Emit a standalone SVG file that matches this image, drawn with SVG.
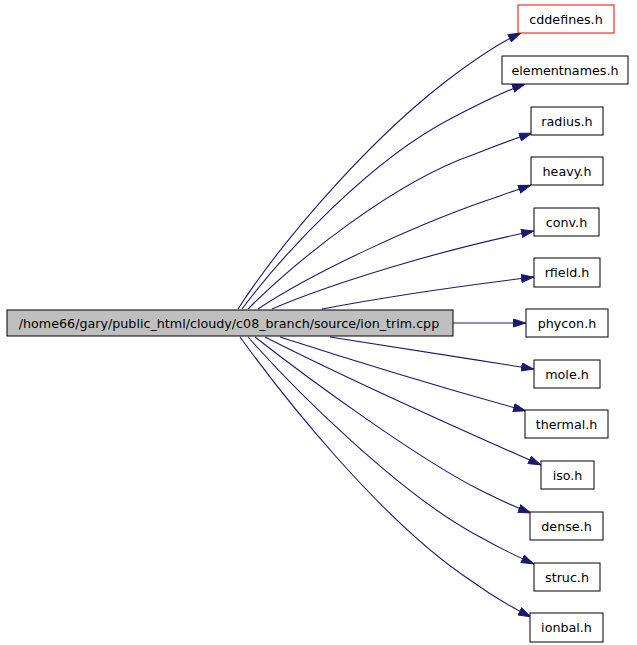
<svg xmlns="http://www.w3.org/2000/svg" width="637" height="645" viewBox="0 0 637 645">
<style>
.n rect{fill:#fff;stroke:#000;stroke-width:1}
.n text{font-family:"DejaVu Sans",sans-serif;font-size:12.7px;text-anchor:middle;fill:#000}
#edges path{fill:none;stroke:#191970;stroke-width:1.1;marker-end:url(#ah)}
</style>
<defs>
<marker id="ah" markerUnits="userSpaceOnUse" viewBox="0 0 13 9" refX="13" refY="4.5" markerWidth="13" markerHeight="9" orient="auto">
<path d="M0.5,0.5 L12.5,4.5 L0.5,8.5 z" fill="#191970" stroke="#191970"/>
</marker>
</defs>
<rect width="637" height="645" fill="#fff"/>
<g id="edges">
<path d="M238,309 C276,250 360,148 445,82 C470,63 497,44 521,33"/>
<path d="M242,309 C283,254 370,160 452,118 C475,106 500,93 525,84"/>
<path d="M248,309 C295,262 393,182 475,154 C495,146 514,139 532,133"/>
<path d="M258,309 C310,274 420,222 500,196 C510,192 520,189 531,185"/>
<path d="M272,309 C330,284 440,250 534,231"/>
<path d="M322,309 C380,298 460,286 534,277"/>
<path d="M453,323 L526,323"/>
<path d="M330,337 C390,347 465,358 534,369"/>
<path d="M280,337 C345,358 450,390 526,411"/>
<path d="M265,337 C330,370 450,425 541,465"/>
<path d="M255,337 C310,380 420,460 480,490 C498,499 515,507 531,513"/>
<path d="M248,337 C295,390 400,495 480,537 C498,547 516,556 534,564"/>
<path d="M240,337 C282,395 380,520 470,580 C488,593 509,606 531,617"/>
</g>
<g id="main" class="n"><rect x="7" y="310" width="446" height="26" style="fill:#bfbfbf"/><text x="229" y="327.5">/home66/gary/public_html/cloudy/c08_branch/source/ion_trim.cpp</text></g>
<g id="cddefines" class="n"><rect x="518" y="5" width="96" height="28" style="stroke:#f00"/><text x="566" y="23.5">cddefines.h</text></g>
<g id="elementnames" class="n"><rect x="502" y="56" width="126" height="28"/><text x="565" y="74.5">elementnames.h</text></g>
<g id="radius" class="n"><rect x="531" y="107" width="72" height="28"/><text x="567" y="125.5">radius.h</text></g>
<g id="heavy" class="n"><rect x="531" y="157" width="72" height="28"/><text x="567" y="175.5">heavy.h</text></g>
<g id="conv" class="n"><rect x="534" y="208" width="65" height="28"/><text x="566.5" y="226.5">conv.h</text></g>
<g id="rfield" class="n"><rect x="534" y="258" width="66" height="29"/><text x="567" y="276.5">rfield.h</text></g>
<g id="phycon" class="n"><rect x="526" y="309" width="82" height="28"/><text x="567" y="327.5">phycon.h</text></g>
<g id="mole" class="n"><rect x="534" y="360" width="66" height="28"/><text x="567" y="378.5">mole.h</text></g>
<g id="thermal" class="n"><rect x="525" y="410" width="83" height="28"/><text x="566.5" y="428.5">thermal.h</text></g>
<g id="iso" class="n"><rect x="541" y="461" width="53" height="28"/><text x="567.5" y="479.5">iso.h</text></g>
<g id="dense" class="n"><rect x="530" y="512" width="73" height="28"/><text x="566.5" y="530.5">dense.h</text></g>
<g id="struc" class="n"><rect x="534" y="563" width="66" height="28"/><text x="567" y="581.5">struc.h</text></g>
<g id="ionbal" class="n"><rect x="530" y="613" width="73" height="29"/><text x="566.5" y="631.5">ionbal.h</text></g>
</svg>
